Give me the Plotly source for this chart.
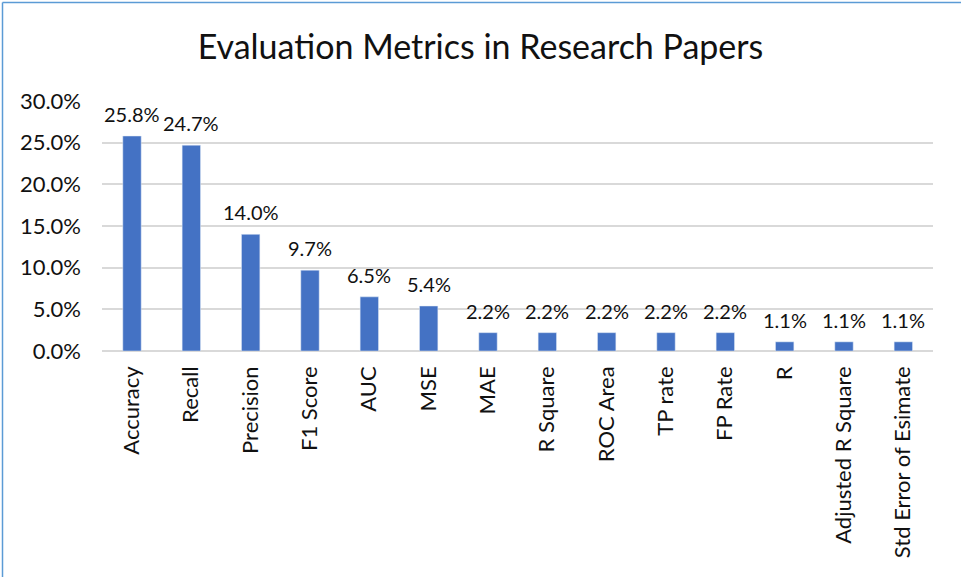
import plotly.graph_objects as go

categories = ["Accuracy", "Recall", "Precision", "F1 Score", "AUC", "MSE", "MAE",
              "R Square", "ROC Area", "TP rate", "FP Rate", "R",
              "Adjusted R Square", "Std Error of Esimate"]
values = [0.258, 0.247, 0.140, 0.097, 0.065, 0.054, 0.022,
          0.022, 0.022, 0.022, 0.022, 0.011, 0.011, 0.011]
y_ticks = [0, 0.05, 0.10, 0.15, 0.20, 0.25, 0.30]

FONT = "Lato"
TXT = "#111111"

fig = go.Figure()
fig.add_trace(go.Bar(
    x=categories, y=values, marker_color="#4472C4", width=0.31,
    hoverinfo="x+y",
))

for c, v in zip(categories, values):
    fig.add_annotation(x=c, y=v, text=f"{v*100:.1f}%", showarrow=False,
                       yanchor="bottom", yshift=8,
                       font=dict(family=FONT, size=20, color=TXT))

L, R, T, B = 102, 28, 101, 226
W, H = 961, 577
pw, ph = W - L - R, H - T - B
bx = (2.5 - L) / pw
by = (H - B - 2.5) / ph
fig.add_shape(type="line", xref="paper", yref="paper", x0=bx, x1=bx, y0=-2, y1=by,
              line=dict(color="#5B9BD5", width=1.5))
fig.add_shape(type="line", xref="paper", yref="paper", x0=bx, x1=(W + 5 - L) / pw, y0=by, y1=by,
              line=dict(color="#5B9BD5", width=1.5))

fig.update_layout(
    width=W, height=H,
    margin=dict(l=L, r=R, t=T, b=B),
    paper_bgcolor="white", plot_bgcolor="white",
    title=dict(text="Evaluation Metrics in Research Papers", x=0.5, xanchor="center",
               y=1 - 47 / H, yanchor="middle", yref="container",
               font=dict(family=FONT, size=34, color=TXT)),
    showlegend=False,
    xaxis=dict(tickangle=-90, tickfont=dict(family=FONT, size=22, color=TXT),
               showgrid=False, ticks="", showline=False, ticklabelstandoff=10),
    yaxis=dict(range=[0, 0.30], tickvals=y_ticks, tickformat=".1%",
               tickfont=dict(family=FONT, size=22, color=TXT),
               showgrid=True, gridcolor="#D9D9D9", gridwidth=1.5,
               zeroline=True, zerolinecolor="#D9D9D9", zerolinewidth=1.5,
               ticks="", ticklabelstandoff=20),
)

fig.write_html("out.html", config={"displayModeBar": False},
               post_script="document.body.style.margin='0';")
